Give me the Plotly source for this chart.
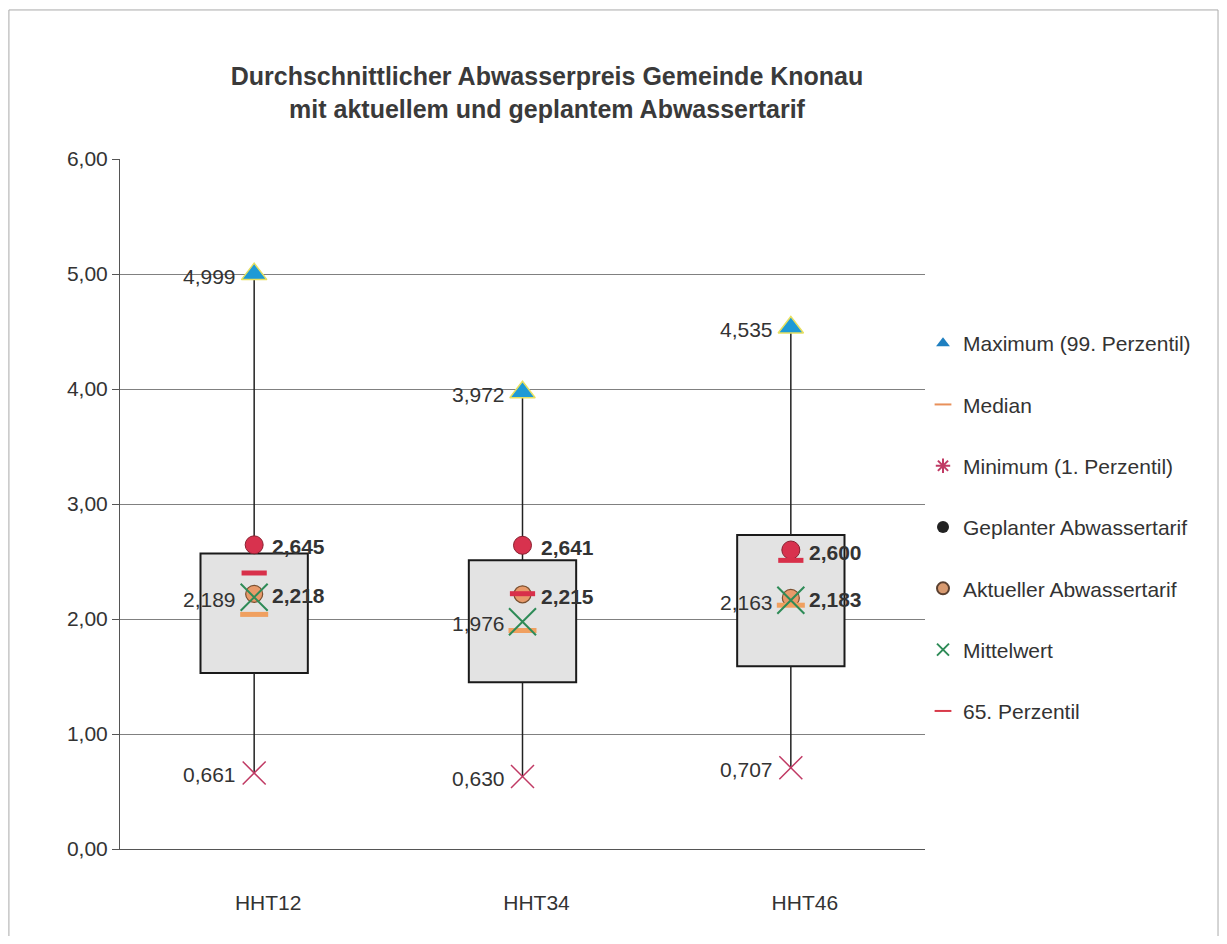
import plotly.graph_objects as go

categories = ["HHT12", "HHT34", "HHT46"]
maximum = [4.999, 3.972, 4.535]
minimum = [0.661, 0.630, 0.707]
mittelwert = [2.189, 1.976, 2.163]
aktuell = [2.218, 2.215, 2.183]
geplant = [2.645, 2.641, 2.600]
median = [2.04, 1.90, 2.12]
perz65 = [2.40, 2.22, 2.51]
box_low = [1.53, 1.45, 1.59]
box_high = [2.57, 2.51, 2.73]
y_ticks = [0, 1, 2, 3, 4, 5, 6]

FONT = "Liberation Sans, Arial, sans-serif"
TXT = "#333333"
W, H = 1211, 928
xs = list(range(len(categories)))


def fmt(v):
    return f"{v:.3f}".replace(".", ",")


fig = go.Figure()

# whiskers (split around the box)
wx, wy = [], []
for i in xs:
    wx += [i, i, None, i, i, None]
    wy += [minimum[i], box_low[i], None, box_high[i], maximum[i], None]
fig.add_trace(go.Scatter(x=wx, y=wy, mode="lines", line=dict(color="#222222", width=1.5),
                         showlegend=False, hoverinfo="skip"))

# boxes
fig.add_trace(go.Bar(x=xs, y=[h - l for h, l in zip(box_high, box_low)], base=box_low,
                     width=0.4, marker=dict(color="#e3e3e3", line=dict(color="#1a1a1a", width=2)),
                     showlegend=False, hoverinfo="skip"))

styles = [
    ("Maximum (99. Perzentil)", maximum, dict(symbol="triangle-up", size=22, color="#1e9ad6",
                                              line=dict(color="#e8e060", width=1.5)),
     dict(symbol="triangle-up", size=9, color="#1e7fc0", line=dict(width=0))),
    ("Minimum (1. Perzentil)", minimum, dict(symbol="x-thin", size=23, color="#c03a64",
                                             line=dict(color="#c03a64", width=1.5)),
     dict(symbol="asterisk", size=10, color="#c03a64", line=dict(color="#c03a64", width=1.2))),
    ("Geplanter Abwassertarif", geplant, dict(symbol="circle", size=18, color="#d8324e",
                                              line=dict(color="#8a2030", width=1)),
     dict(symbol="circle", size=11, color="#222222", line=dict(width=0))),
    ("Aktueller Abwassertarif", aktuell, dict(symbol="circle", size=17, color="#e89a6a",
                                              line=dict(color="#7a5030", width=1.2)),
     dict(symbol="circle", size=11, color="#d89a70", line=dict(color="#5a4030", width=1.2))),
    ("Median", median, dict(symbol="line-ew", size=20, color="#f0a060",
                            line=dict(color="#f0a060", width=5)),
     dict(symbol="line-ew", size=11, color="#e8905a", line=dict(color="#e8905a", width=3))),
    ("65. Perzentil", perz65, dict(symbol="line-ew", size=18, color="#d8304a",
                                   line=dict(color="#d8304a", width=5)),
     dict(symbol="line-ew", size=11, color="#d83a4a", line=dict(color="#d83a4a", width=3))),
    ("Mittelwert", mittelwert, dict(symbol="x-thin", size=27, color="#2e8b57",
                                    line=dict(color="#2e8b57", width=2)),
     dict(symbol="x-thin", size=10, color="#2e8b57", line=dict(color="#2e8b57", width=1.5))),
]

for name, vals, mk, _ in styles:
    fig.add_trace(go.Scatter(x=xs, y=vals, mode="markers", marker=mk, name=name,
                             showlegend=False))

legend_order = ["Maximum (99. Perzentil)", "Median", "Minimum (1. Perzentil)",
                "Geplanter Abwassertarif", "Aktueller Abwassertarif", "Mittelwert", "65. Perzentil"]
lk = {s[0]: s[3] for s in styles}
for k, name in enumerate(legend_order):
    fig.add_trace(go.Scatter(x=[None], y=[None], mode="markers", marker=lk[name], name=name,
                             legendgroup=f"g{k}", showlegend=True))

ann = []
for i in xs:
    for vals, side, bold in [(maximum, "l", False), (minimum, "l", False), (mittelwert, "l", False),
                             (aktuell, "r", True), (geplant, "r", True)]:
        txt = fmt(vals[i])
        ann.append(dict(x=i, y=vals[i], xref="x", yref="y", text=f"<b>{txt}</b>" if bold else txt,
                        showarrow=False, xanchor="right" if side == "l" else "left",
                        xshift=-16 if side == "l" else 16, yshift=-2,
                        font=dict(family=FONT, size=21, color=TXT)))

fig.update_layout(
    width=W, height=H,
    paper_bgcolor="white", plot_bgcolor="white",
    margin=dict(l=112, r=294, t=151, b=87, autoexpand=False),
    separators=",.",
    font=dict(family=FONT, size=21, color=TXT),
    title=dict(text="<b>Durchschnittlicher Abwasserpreis Gemeinde Knonau<br>mit aktuellem und geplantem Abwassertarif</b>",
               x=539 / W, xanchor="center", y=1 - 77 / H, yanchor="middle",
               xref="container", yref="container",
               font=dict(family=FONT, size=25, color="#3a3a3a")),
    xaxis=dict(range=[-0.5, 2.5], tickmode="array", tickvals=xs, ticktext=categories,
               showgrid=False, zeroline=False, showline=True, linecolor="#555555", linewidth=1,
               ticks="", ticklabelstandoff=35, ticklabelshift=14,
               tickfont=dict(family=FONT, size=21, color=TXT)),
    yaxis=dict(range=[0, 6], tickmode="array", tickvals=y_ticks, tickformat=".2f",
               showgrid=True, gridcolor="#808080", gridwidth=1, zeroline=False,
               showline=True, linecolor="#555555", linewidth=1, ticks="outside", ticklen=7,
               tickcolor="#555555", tickfont=dict(family=FONT, size=21, color=TXT)),
    barmode="overlay",
    legend=dict(x=915 / W, xref="container", y=1 - 315 / H, yref="container",
                xanchor="left", yanchor="top", tracegroupgap=31, itemsizing="constant",
                font=dict(family=FONT, size=21, color=TXT), bgcolor="rgba(0,0,0,0)"),
    annotations=ann,
    shapes=[dict(type="rect", xref="paper", yref="paper", x0=-0.138, x1=1.364, y0=-0.2, y1=1.216,
                 line=dict(color="#aaaaaa", width=1), layer="below")],
)

fig.write_html("out.html")
